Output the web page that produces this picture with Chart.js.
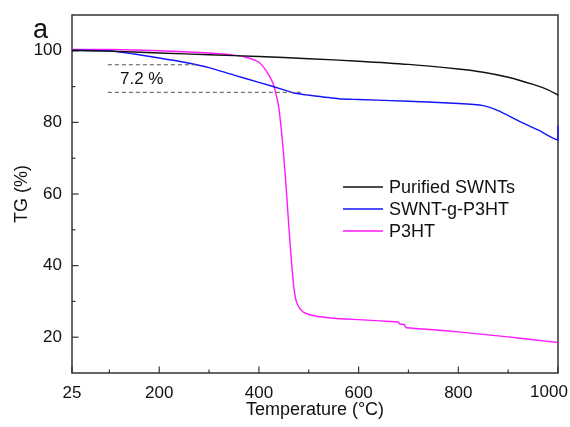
<!DOCTYPE html>
<html lang="en">
<head>
    <meta charset="UTF-8">
    <title>TG curves</title>
    <script src="https://cdn.jsdelivr.net/npm/chart.js"></script>
    <style>
        html, body { margin: 0; padding: 0; background: #fff; }
        #chartContainer { width: 570px; height: 427px; position: relative; }
    </style>
</head>
<body>
    <div id="chartContainer">
        <canvas id="tgChart"></canvas>
    </div>

    <script>
        // series labels and colours
        const seriesNames = ["Purified SWNTs", "SWNT-g-P3HT", "P3HT"];
        const seriesColors = ["#111111", "#1414ff", "#ff19ff"];

        // Purified SWNTs
        const tempSwnt = [25, 100, 200, 300, 400, 500, 600, 700, 800, 850, 900, 950, 980, 1000];
        const tgSwnt   = [100.1, 99.9, 99.4, 98.9, 98.4, 97.8, 97.1, 96.2, 94.9, 94.0, 92.6, 90.6, 89.1, 87.6];

        // SWNT-g-P3HT
        const tempGraft = [25, 100, 150, 200, 250, 300, 350, 400, 450, 470, 500, 560, 600, 700, 800, 850, 880, 920, 960, 1000, 1000];
        const tgGraft   = [100.2, 100.0, 99.1, 98.0, 96.8, 95.3, 93.2, 91.2, 89.1, 88.2, 87.6, 86.6, 86.4, 85.9, 85.3, 84.7, 83.3, 80.5, 77.9, 75.1, 79.1];

        // P3HT
        const tempP3ht = [25, 100, 200, 300, 350, 380, 400, 410, 420, 428, 435, 440, 447, 453, 458, 462, 466, 470, 475, 482, 492, 510, 550, 600, 650, 680, 682, 692, 695, 750, 800, 850, 900, 950, 1000];
        const tgP3ht   = [100.4, 100.4, 100.0, 99.4, 98.8, 98.0, 96.8, 95.3, 93.2, 91.0, 87.5, 84.0, 75.0, 65.0, 55.0, 47.0, 40.0, 34.0, 30.0, 28.0, 26.8, 26.0, 25.3, 24.9, 24.5, 24.2, 23.7, 23.5, 22.7, 22.1, 21.5, 20.8, 20.1, 19.3, 18.5];

        // 7.2 % mass-loss guide lines
        const guideUpperX = [97, 272];
        const guideUpperY = [96.1, 96.1];
        const guideLowerX = [97, 490];
        const guideLowerY = [88.4, 88.4];

        // axis ticks
        const xTickValues = [25, 100, 200, 300, 400, 500, 600, 700, 800, 900, 1000];
        const xTickLabels = [25, 200, 400, 600, 800, 1000];
        const yTickValues = [20, 30, 40, 50, 60, 70, 80, 90, 100];
        const yTickLabels = [20, 40, 60, 80, 100];

        const toPoints = (xs, ys) => xs.map((x, i) => ({ x: x, y: ys[i] }));

        const axisColor = "#333333";
        const fontFamily = "'Liberation Sans', Arial, sans-serif";

        // frame and inward tick marks, under the curves
        const framePlugin = {
            id: "frame",
            beforeDatasetsDraw(chart) {
                const ctx = chart.ctx;
                const area = chart.chartArea;
                const xs = chart.scales.x;
                const ys = chart.scales.y;
                ctx.save();
                ctx.strokeStyle = axisColor;
                ctx.lineWidth = 1.5;
                ctx.strokeRect(area.left, area.top, area.right - area.left, area.bottom - area.top);

                ctx.lineWidth = 1.2;
                xs.ticks.forEach(t => {
                    const px = xs.getPixelForValue(t.value);
                    const len = xTickLabels.includes(t.value) ? 6.5 : 3.5;
                    ctx.beginPath();
                    ctx.moveTo(px, area.bottom);
                    ctx.lineTo(px, area.bottom - len);
                    ctx.stroke();
                });
                ys.ticks.forEach(t => {
                    const py = ys.getPixelForValue(t.value);
                    const len = yTickLabels.includes(t.value) ? 6.5 : 3.5;
                    ctx.beginPath();
                    ctx.moveTo(area.left, py);
                    ctx.lineTo(area.left + len, py);
                    ctx.stroke();
                });
                ctx.restore();
            }
        };

        // legend, panel letter and annotations
        const labelPlugin = {
            id: "labels",
            afterDraw(chart) {
                const ctx = chart.ctx;
                const xs = chart.scales.x;
                ctx.save();
                ctx.font = "18px " + fontFamily;
                ctx.textBaseline = "middle";
                ctx.textAlign = "left";
                seriesNames.forEach((name, i) => {
                    const y = 187 + i * 22;
                    ctx.strokeStyle = seriesColors[i];
                    ctx.lineWidth = 1.5;
                    ctx.beginPath();
                    ctx.moveTo(343, y);
                    ctx.lineTo(383, y);
                    ctx.stroke();
                    ctx.fillStyle = "#111";
                    ctx.fillText(name, 389, y + 1);
                });

                ctx.font = "27px " + fontFamily;
                ctx.fillText("a", 33, 31);
                ctx.font = "17px " + fontFamily;
                ctx.fillText("7.2 %", 120, 79);

                // last x label sits a little inside the canvas edge
                ctx.textAlign = "center";
                ctx.fillText("1000", xs.getPixelForValue(1000) - 9, 392);
                ctx.restore();
            }
        };

        const lineStyle = (label, data, color, tension) => ({
            label: label,
            data: data,
            borderColor: color,
            backgroundColor: color,
            borderWidth: 1.4,
            pointRadius: 0,
            tension: tension,
            clip: 3,
            fill: false
        });

        const guideStyle = (data) => ({
            label: "guide",
            data: data,
            borderColor: "#555555",
            borderWidth: 1,
            borderDash: [4, 3],
            pointRadius: 0,
            fill: false
        });

        new Chart(document.getElementById("tgChart"), {
            type: "line",
            data: {
                datasets: [
                    guideStyle(toPoints(guideUpperX, guideUpperY)),
                    guideStyle(toPoints(guideLowerX, guideLowerY)),
                    lineStyle(seriesNames[0], toPoints(tempSwnt, tgSwnt), seriesColors[0], 0.3),
                    lineStyle(seriesNames[1], toPoints(tempGraft, tgGraft), seriesColors[1], 0.2),
                    lineStyle(seriesNames[2], toPoints(tempP3ht, tgP3ht), seriesColors[2], 0.15)
                ]
            },
            options: {
                responsive: true,
                maintainAspectRatio: false,
                animation: false,
                layout: { padding: { top: 15, right: 12, left: 0, bottom: 0 } },
                plugins: {
                    legend: { display: false },
                    tooltip: { enabled: false }
                },
                scales: {
                    x: {
                        type: "linear",
                        min: 25,
                        max: 1000,
                        grid: { display: false, drawTicks: false },
                        border: { display: false },
                        afterBuildTicks: s => { s.ticks = xTickValues.map(v => ({ value: v })); },
                        afterFit: s => { s.height = 54; s.paddingLeft = 0; s.paddingRight = 0; },
                        ticks: {
                            autoSkip: false,
                            maxRotation: 0,
                            padding: 10,
                            color: "#111",
                            font: { family: fontFamily, size: 17 },
                            callback: v => (xTickLabels.includes(v) && v !== 1000) ? String(v) : ""
                        },
                        title: {
                            display: true,
                            text: "Temperature (°C)",
                            color: "#111",
                            padding: { top: 0, bottom: 6 },
                            font: { family: fontFamily, size: 18 }
                        }
                    },
                    y: {
                        type: "linear",
                        min: 10,
                        max: 110,
                        grid: { display: false, drawTicks: false },
                        border: { display: false },
                        afterBuildTicks: s => { s.ticks = yTickValues.map(v => ({ value: v })); },
                        afterFit: s => { s.width = 72; s.paddingTop = 0; s.paddingBottom = 0; },
                        ticks: {
                            autoSkip: false,
                            padding: 10,
                            color: "#111",
                            font: { family: fontFamily, size: 17 },
                            callback: v => yTickLabels.includes(v) ? String(v) : ""
                        },
                        title: {
                            display: true,
                            text: "TG (%)",
                            color: "#111",
                            padding: { top: 11, bottom: 0 },
                            font: { family: fontFamily, size: 18 }
                        }
                    }
                }
            },
            plugins: [framePlugin, labelPlugin]
        });
    </script>
</body>
</html>
